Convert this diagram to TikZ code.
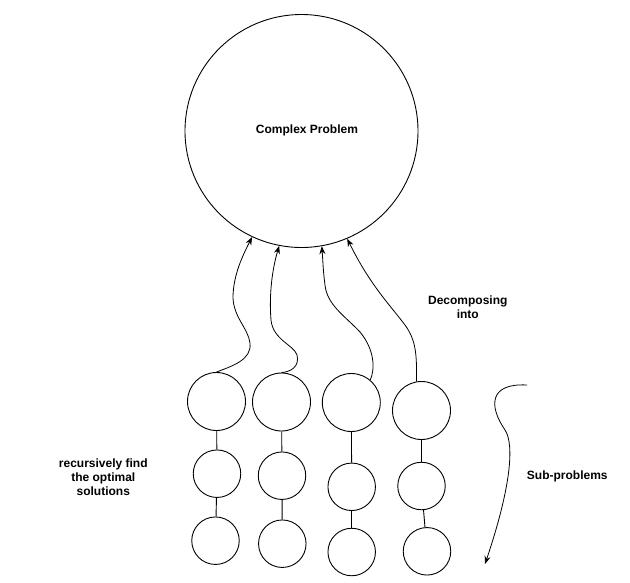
\documentclass[tikz,border=0pt]{standalone}
\usepackage{fontspec}
\setmainfont{Liberation Sans}
\usetikzlibrary{arrows.meta}
\begin{document}
\begin{tikzpicture}[x=1pt,y=-1pt,
  circ/.style={draw,circle,line width=0.9pt,inner sep=0pt},
  big/.style={circ,minimum size=233pt},
  topc/.style={circ,minimum size=58pt},
  midc/.style={circ,minimum size=47.5pt},
  link/.style={line width=0.9pt},
  arr/.style={line width=0.8pt,-{Stealth[length=8pt,width=6pt]}},
  lbl/.style={font=\fontsize{12}{14}\selectfont\bfseries,align=center,inner sep=0pt}]
\useasboundingbox (0,0) rectangle (630,582);
\node[big] (big) at (301.5,131) {};
\node[lbl] at (307,130) {Complex Problem};
% column 1
\node[topc] (c1a) at (216.5,401.5) {};
\node[midc] (c1b) at (217,473.7) {};
\node[midc] (c1c) at (215.5,540.7) {};
% column 2
\node[topc] (c2a) at (281.5,402) {};
\node[midc] (c2b) at (282,475.7) {};
\node[midc] (c2c) at (282.3,543.7) {};
% column 3
\node[topc] (c3a) at (351.3,402.5) {};
\node[midc] (c3b) at (351.7,486.8) {};
\node[midc] (c3c) at (351.7,552) {};
% column 4
\node[topc] (c4a) at (421.5,410.5) {};
\node[midc] (c4b) at (421.5,486) {};
\node[midc] (c4c) at (427,551.3) {};
\draw[link] (c1a) -- (c1b); \draw[link] (c1b) -- (c1c);
\draw[link] (c2a) -- (c2b); \draw[link] (c2b) -- (c2c);
\draw[link] (c3a) -- (c3b); \draw[link] (c3b) -- (c3c);
\draw[link] (c4a) -- (c4b); \draw[link] (c4b) -- (c4c);
% curved arrows
\draw[arr] (c1a.north) .. controls (232,366) and (252,360) .. (250,343)
  .. controls (248,328) and (234,318) .. (233,298)
  .. controls (233,275) and (243,255) .. (big.245.9);
\draw[arr] (c2a.north) .. controls (290,372) and (300,367) .. (297,355)
  .. controls (294,345) and (273,340) .. (271,320)
  .. controls (269,295) and (272,270) .. (big.259.8);
\draw[arr] (c3a.50) .. controls (375,370) and (375,350) .. (360,332)
  .. controls (345,316) and (327,305) .. (325,285)
  .. controls (323,270) and (323,262) .. (big.280.2);
\draw[arr] (c4a.100) .. controls (417,355) and (416,340) .. (405,325)
  .. controls (390,305) and (370,285) .. (big.293.8);
% sub-problems arrow
\coordinate (s0) at (527,385);
\coordinate (s1) at (485,564);
\draw[arr] (s0) .. controls (490,383) and (488,405) .. (505,430)
  .. controls (515,445) and (510,490) .. (s1);
% labels
\node[lbl] (dec) at (467.8,307.5) {Decomposing\\into};
\node[lbl] (rec) at (103.3,477) {recursively find\\the optimal\\solutions};
\node[lbl] (sub) at (567.3,476.5) {Sub-problems};
\end{tikzpicture}
\end{document}
